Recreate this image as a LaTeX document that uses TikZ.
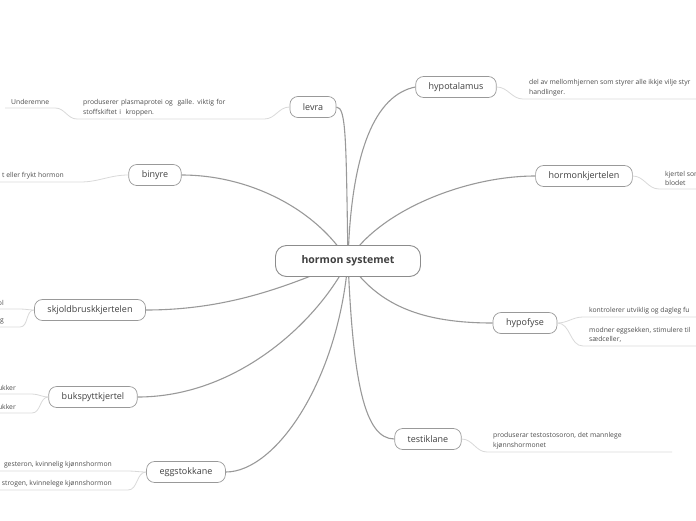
\documentclass[tikz,border=0pt]{standalone}
\usepackage{fontspec}
\setmainfont{Open Sans}

\tikzset{
	hub/.style={draw=black!45, line width=0.9pt, rounded corners=11pt, fill=white,
		minimum width=145pt, minimum height=31pt, text=black!75,
		font=\fontsize{10.5}{12}\selectfont\bfseries},
	topic/.style={draw=black!40, line width=0.7pt, rounded corners=8pt, fill=white,
		minimum height=21pt, inner xsep=13pt, text=black!75,
		font=\fontsize{9}{11}\selectfont},
	note/.style={font=\fontsize{6.8}{9.5}\selectfont, text=black!70, align=left,
		inner xsep=6pt, inner ysep=3pt, anchor=south west},
	lnote/.style={note, align=right, inner xsep=16pt, anchor=south east},
	branch/.style={draw=black!40, line width=1.1pt},
	twig/.style={draw=black!15, line width=0.8pt},
}

\begin{document}
\begin{tikzpicture}[x=1pt,y=-1pt]

	\useasboundingbox (0,0) rectangle (696,520);
	\clip (0,0) rectangle (696,520);

	\coordinate (core) at (348,261);

	% topics
	\node[topic] (hypo) at (456,87) {hypotalamus};
	\node[topic] (levra) at (313,107) {levra};
	\node[topic] (biny) at (155,175) {binyre};
	\node[topic] (hk) at (584,176) {hormonkjertelen};
	\node[topic] (skj) at (90,310) {skjoldbruskkjertelen};
	\node[topic] (hpf) at (525,323) {hypofyse};
	\node[topic] (buk) at (93,397) {bukspyttkjertel};
	\node[topic] (tes) at (428,439) {testiklane};
	\node[topic] (egg) at (186,472) {eggstokkane};

	\draw[branch] (core) .. controls +(3,-110) and +(-40,8) .. (hypo.west);
	\draw[branch] (core) .. controls +(-2,-120) and +(10,0) .. (levra.east);
	\draw[branch] (core) .. controls +(-30,-50) and +(70,0) .. (biny.east);
	\draw[branch] (core) .. controls +(30,-50) and +(-70,0) .. (hk.west);
	\draw[branch] (core) .. controls +(-50,20) and +(90,0) .. (skj.east);
	\draw[branch] (core) .. controls +(30,45) and +(-70,0) .. (hpf.west);
	\draw[branch] (core) .. controls +(-30,60) and +(100,0) .. (buk.east);
	\draw[branch] (core) .. controls +(5,120) and +(-30,0) .. (tes.west);
	\draw[branch] (core) .. controls +(-10,120) and +(50,0) .. (egg.east);

	\node[hub] (hub) at (core) {hormon systemet};

	% notes, right side
	\node[note] (hypoN) at (523,99) {del av mellomhjernen som styrer alle ikkje vilje styr\\handlinger.};
	\node[note] (hkN) at (659,189) {kjertel som\\blodet};
	\node[note] (hpfN1) at (583,317) {kontrolerer utviklig og dagleg fu};
	\node[note] (hpfN2) at (583,346) {modner eggsekken, stimulere til\\sædceller,};
	\node[note] (tesN) at (487,452) {produserar testostosoron, det mannlege\\kjønnshormonet};

	\draw[twig] (hypo.east) to[out=0,in=180] (hypoN.south west) -- ++(200,0);
	\draw[twig] (hk.east) to[out=0,in=180] (hkN.south west) -- ++(60,0);
	\draw[twig] (hpf.east) to[out=0,in=180] (hpfN1.south west) -- ++(120,0);
	\draw[twig] (hpf.east) to[out=0,in=180] (hpfN2.south west) -- ++(120,0);
	\draw[twig] (tes.east) to[out=0,in=180] (tesN.south west) -- ++(185,0);

	% notes, left side
	\node[note, text width=175pt] (levN) at (77,119) {produserer plasmaprotei og\ \ galle. viktig for\\stoffskiftet i\ \ kroppen.};
	\node[note] (undN) at (5,108) {Underemne};
	\node[lnote] (binN) at (80,182) {t eller frykt hormon};
	\node[lnote] (skjN1) at (20,309) {ol};
	\node[lnote] (skjN2) at (20,327) {g};
	\node[lnote] (bukN1) at (32,394) {ukker};
	\node[lnote] (bukN2) at (32,413) {ukker};
	\node[lnote] (eggN1) at (128,471) {gesteron, kvinnelig kjønnshormon};
	\node[lnote] (eggN2) at (128,490) {strogen, kvinnelege kjønnshormon};

	\draw[twig] (levra.west) to[out=180,in=0] (levN.south east) -- (levN.south west);
	\draw[twig] (levN.south west) to[out=180,in=0] (undN.south east) -- (undN.south west);
	\draw[twig] (biny.west) to[out=180,in=0] (binN.south east) -- ++(-100,0);
	\draw[twig] (skj.west) to[out=180,in=0] (skjN1.south east) -- ++(-40,0);
	\draw[twig] (skj.west) to[out=180,in=0] (skjN2.south east) -- ++(-40,0);
	\draw[twig] (buk.west) to[out=180,in=0] (bukN1.south east) -- ++(-50,0);
	\draw[twig] (buk.west) to[out=180,in=0] (bukN2.south east) -- ++(-50,0);
	\draw[twig] (egg.west) to[out=180,in=0] (eggN1.south east) -- ++(-150,0);
	\draw[twig] (egg.west) to[out=180,in=0] (eggN2.south east) -- ++(-150,0);

\end{tikzpicture}
\end{document}
